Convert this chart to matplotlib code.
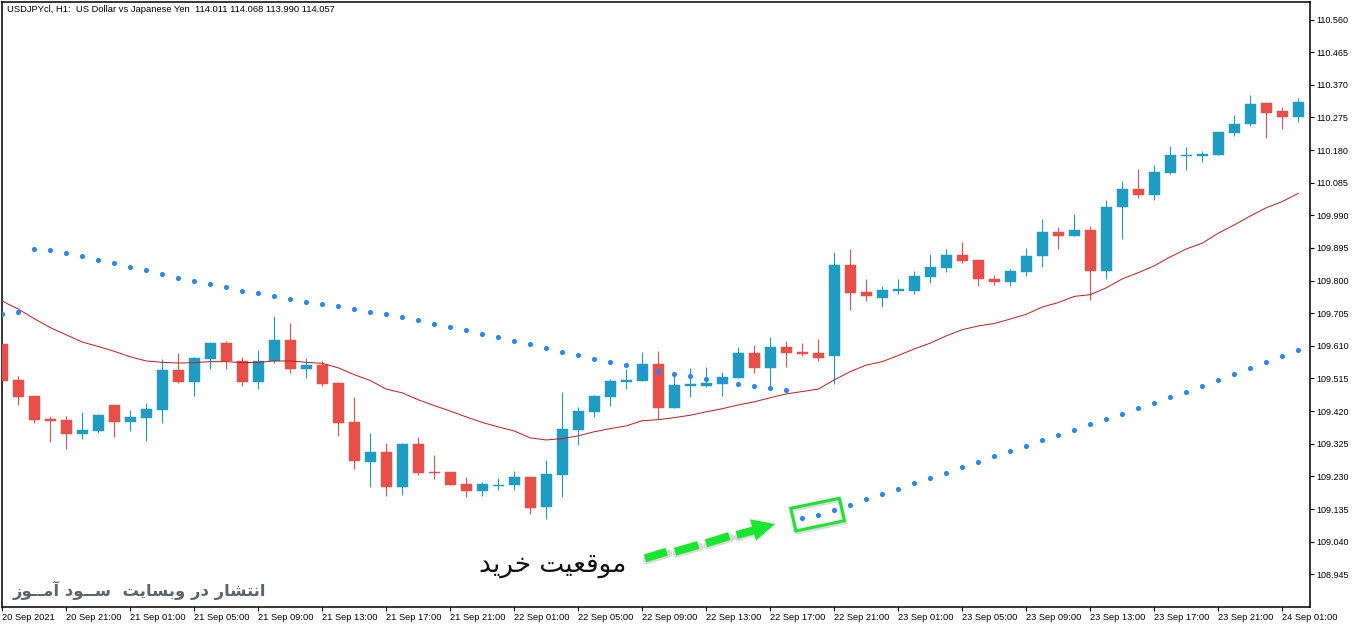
# USDJPY H1 chart, candles + parabolic sar + moving average
import numpy as np
import matplotlib
matplotlib.use('Agg')
import matplotlib.pyplot as plt
from matplotlib.patches import Polygon

# candle values, one entry per hour starting 20 Sep 17:00
opens = [109.616,109.511,109.465,109.398,109.395,109.354,109.363,109.438,109.389,109.401,
         109.424,109.540,109.505,109.572,109.619,109.566,109.505,109.566,109.628,109.543,
         109.555,109.502,109.389,109.273,109.302,109.200,109.325,109.243,109.243,109.209,
         109.188,109.203,109.206,109.229,109.142,109.235,109.366,109.418,109.462,109.505,
         109.508,109.558,109.430,109.494,109.494,109.500,109.517,109.590,109.546,109.607,
         109.593,109.590,109.581,109.846,109.767,109.750,109.770,109.770,109.811,109.837,
         109.875,109.860,109.805,109.796,109.825,109.872,109.942,109.930,109.948,109.828,
         110.015,110.067,110.050,110.114,110.163,110.163,110.166,110.230,110.256,110.317,
         110.294,110.277]
highs = [109.616,109.523,109.465,109.406,109.406,109.418,109.412,109.438,109.424,109.444,
         109.572,109.590,109.578,109.622,109.625,109.578,109.599,109.697,109.677,109.575,
         109.566,109.505,109.462,109.357,109.328,109.328,109.345,109.293,109.243,109.229,
         109.214,109.226,109.246,109.229,109.278,109.476,109.433,109.468,109.514,109.543,
         109.593,109.596,109.529,109.546,109.549,109.534,109.607,109.613,109.636,109.625,
         109.619,109.631,109.884,109.892,109.805,109.785,109.805,109.828,109.878,109.892,
         109.913,109.860,109.817,109.834,109.895,109.980,109.956,109.994,109.959,110.035,
         110.090,110.125,110.137,110.192,110.189,110.178,110.233,110.282,110.341,110.320,
         110.306,110.332]
lows = [109.508,109.438,109.386,109.331,109.310,109.339,109.357,109.345,109.363,109.334,
        109.386,109.502,109.465,109.543,109.543,109.494,109.485,109.561,109.532,109.517,
        109.494,109.348,109.252,109.200,109.174,109.177,109.235,109.223,109.206,109.171,
        109.174,109.191,109.191,109.121,109.107,109.171,109.322,109.404,109.436,109.485,
        109.508,109.398,109.430,109.462,109.491,109.465,109.517,109.532,109.488,109.549,
        109.581,109.566,109.500,109.715,109.741,109.724,109.761,109.761,109.793,109.825,
        109.852,109.785,109.788,109.785,109.814,109.840,109.892,109.930,109.744,109.805,
        109.922,110.041,110.035,110.111,110.122,110.146,110.166,110.221,110.250,110.215,
        110.241,110.262]
closes = [109.508,109.462,109.395,109.392,109.354,109.366,109.409,109.389,109.404,109.427,
          109.540,109.505,109.575,109.619,109.566,109.505,109.566,109.628,109.543,109.555,
          109.500,109.386,109.275,109.302,109.200,109.325,109.241,109.241,109.206,109.188,
          109.209,109.206,109.229,109.139,109.238,109.369,109.421,109.465,109.508,109.511,
          109.558,109.430,109.497,109.500,109.502,109.520,109.590,109.546,109.607,109.590,
          109.587,109.575,109.846,109.764,109.756,109.773,109.776,109.814,109.840,109.875,
          109.857,109.805,109.796,109.828,109.872,109.942,109.930,109.948,109.828,110.015,
          110.067,110.050,110.116,110.166,110.166,110.169,110.233,110.256,110.314,110.288,
          110.277,110.320]

# 30 period average
ma_values = [109.740,109.717,109.689,109.663,109.642,109.621,109.608,109.594,109.578,109.566,
             109.562,109.560,109.561,109.564,109.564,109.561,109.562,109.566,109.566,109.562,
             109.559,109.546,109.526,109.509,109.484,109.473,109.453,109.436,109.420,109.403,
             109.387,109.374,109.362,109.342,109.336,109.340,109.348,109.360,109.369,109.377,
             109.392,109.395,109.401,109.408,109.418,109.427,109.438,109.447,109.459,109.470,
             109.477,109.484,109.511,109.535,109.554,109.564,109.582,109.601,109.618,109.639,
             109.657,109.668,109.675,109.688,109.702,109.723,109.736,109.754,109.759,109.779,
             109.805,109.823,109.843,109.869,109.892,109.909,109.938,109.962,109.988,110.012,
             110.030,110.054]

# sar dots: first 50 candles above price, the last 32 below
sar_values = [109.702,109.708,109.892,109.889,109.880,109.871,109.860,109.851,109.839,109.830,
              109.819,109.807,109.798,109.790,109.781,109.769,109.763,109.755,109.746,109.737,
              109.731,109.726,109.717,109.708,109.702,109.694,109.685,109.673,109.665,109.656,
              109.644,109.635,109.624,109.615,109.603,109.592,109.583,109.571,109.563,109.554,
              109.543,109.537,109.528,109.522,109.513,109.508,109.499,109.493,109.487,109.481,
              109.109,109.117,109.132,109.147,109.164,109.179,109.193,109.211,109.225,109.240,
              109.257,109.272,109.289,109.304,109.318,109.336,109.350,109.365,109.382,109.397,
              109.411,109.429,109.443,109.461,109.475,109.493,109.510,109.528,109.545,109.563,
              109.580,109.598]

y_ticks = [110.560,110.465,110.370,110.275,110.180,110.085,109.990,109.895,109.800,109.705,
           109.610,109.515,109.420,109.325,109.230,109.135,109.040,108.945]
x_labels = ['20 Sep 2021','20 Sep 21:00','21 Sep 01:00','21 Sep 05:00','21 Sep 09:00','21 Sep 13:00',
            '21 Sep 17:00','21 Sep 21:00','22 Sep 01:00','22 Sep 05:00','22 Sep 09:00','22 Sep 13:00',
            '22 Sep 17:00','22 Sep 21:00','23 Sep 01:00','23 Sep 05:00','23 Sep 09:00','23 Sep 13:00',
            '23 Sep 17:00','23 Sep 21:00','24 Sep 01:00']

title_text = 'USDJPYcl, H1:  US Dollar vs Japanese Yen  114.011 114.068 113.990 114.057'
buy_text = 'موقعیت خرید'
site_text = 'انتشار در وبسایت  ســود آمــوز'

# matplotlib does no arabic shaping, so pick the joined glyph forms by hand
# letter: isolated, final, initial, medial
forms = {'ا': (0xFE8D, 0xFE8E), 'آ': (0xFE81, 0xFE82), 'د': (0xFEA9, 0xFEAA),
         'ر': (0xFEAD, 0xFEAE), 'ز': (0xFEAF, 0xFEB0), 'و': (0xFEED, 0xFEEE),
         'ب': (0xFE8F, 0xFE90, 0xFE91, 0xFE92), 'ت': (0xFE95, 0xFE96, 0xFE97, 0xFE98),
         'خ': (0xFEA5, 0xFEA6, 0xFEA7, 0xFEA8), 'س': (0xFEB1, 0xFEB2, 0xFEB3, 0xFEB4),
         'ش': (0xFEB5, 0xFEB6, 0xFEB7, 0xFEB8), 'ع': (0xFEC9, 0xFECA, 0xFECB, 0xFECC),
         'ق': (0xFED5, 0xFED6, 0xFED7, 0xFED8), 'م': (0xFEE1, 0xFEE2, 0xFEE3, 0xFEE4),
         'ن': (0xFEE5, 0xFEE6, 0xFEE7, 0xFEE8), 'ی': (0xFBFC, 0xFBFD, 0xFBFE, 0xFBFF)}

def shape(text):
    out = []
    for n, ch in enumerate(text):
        if ch not in forms:
            out.append(ch)
            continue
        prev = text[n - 1] if n > 0 else ' '
        nxt = text[n + 1] if n < len(text) - 1 else ' '
        join_prev = prev == 'ـ' or (prev in forms and len(forms[prev]) == 4)
        join_next = len(forms[ch]) == 4 and (nxt == 'ـ' or nxt in forms)
        if join_prev and join_next:
            out.append(chr(forms[ch][3]))
        elif join_next:
            out.append(chr(forms[ch][2]))
        elif join_prev:
            out.append(chr(forms[ch][1]))
        else:
            out.append(chr(forms[ch][0]))
    return ''.join(reversed(out))

plt.rcParams['font.family'] = ['Liberation Sans', 'DejaVu Sans']

blue = '#1f9cc4'
red = '#e84f48'

fig = plt.figure(figsize=(13.62, 6.28), dpi=100)
ax = fig.add_axes([2 / 1362, 21 / 628, 1307.5 / 1362, 605 / 628])

x = np.arange(len(opens))
o = np.array(opens)
c = np.array(closes)
colors = [blue if b >= a else red for a, b in zip(opens, closes)]

ax.vlines(x, lows, highs, color=colors, linewidth=0.8, zorder=2)
ax.bar(x, np.abs(c - o), bottom=np.minimum(o, c), width=0.66, color=colors,
       edgecolor=colors, linewidth=0.3, zorder=3)
ax.plot(x, ma_values, color='#c9161c', linewidth=0.7, zorder=4)
ax.scatter(x, sar_values, s=14, color='#2b89ee', linewidths=0, zorder=5)

ax.set_xlim(-0.019, 81.7)
ax.set_ylim(108.8497, 110.611)

ax.set_xticks(np.arange(0, 81, 4))
ax.set_xticklabels(x_labels, ha='left', fontsize=6.7)
ax.set_yticks(y_ticks)
ax.set_yticklabels(['%.3f' % v for v in y_ticks], fontsize=6.5)
ax.yaxis.tick_right()
ax.tick_params(axis='x', length=3, width=0.8, pad=1)
ax.tick_params(axis='y', length=3, width=0.8, pad=2)
for s in ax.spines.values():
    s.set_linewidth(1.1)

ax.text(5 / 1307.5, 1 - 7 / 605, title_text, transform=ax.transAxes, fontsize=6.75, va='center')

# overlay in pixel coordinates for the hand drawn notes
over = fig.add_axes([0, 0, 1, 1], facecolor='none')
over.set_xlim(0, 1362)
over.set_ylim(628, 0)
over.axis('off')

lime = '#19e62f'
dashes = [((645, 558.3), (666.7, 551.7)), ((675, 551.7), (698.3, 545)),
          ((706, 543.3), (729.3, 536)), ((736.7, 535), (755, 530))]
head = [(775, 524), (750, 519.3), (756, 540.7)]
box = [(790.7, 508.3), (839.3, 498.3), (844.3, 520.7), (795.7, 531)]

# soft shadow first
for a, b in dashes:
    over.plot([a[0] + 1.5, b[0] + 1.5], [a[1] + 2, b[1] + 2], color='#999999', alpha=0.35,
              linewidth=5.8, solid_capstyle='round', zorder=1)
box_shadow = [(px + 1.5, py + 2) for px, py in box]
over.add_patch(Polygon(box_shadow, closed=True, fill=False, edgecolor='#999999', alpha=0.35,
                       linewidth=2.2, zorder=1))
for a, b in dashes:
    over.plot([a[0], b[0]], [a[1], b[1]], color=lime, linewidth=5.8, solid_capstyle='butt', zorder=2)
over.add_patch(Polygon(head, closed=True, color=lime, linewidth=0, zorder=2))
over.add_patch(Polygon(box, closed=True, fill=False, edgecolor=lime, linewidth=2.2, zorder=2))

over.text(552.5, 565, shape(buy_text), fontsize=19, color='#111111', ha='center', va='center',
          family='DejaVu Sans')
over.text(266, 590, shape(site_text), fontsize=11.8, color='#5d646c', ha='right', va='center',
          family='DejaVu Sans', fontweight='bold')

fig.savefig('out.png', dpi=100)
